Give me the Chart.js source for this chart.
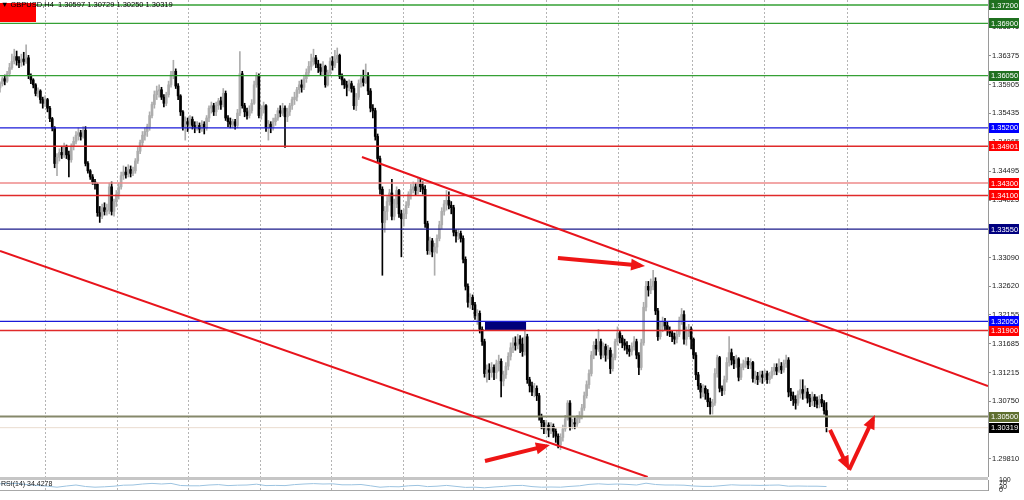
<!DOCTYPE html>
<html>
<head>
<meta charset="utf-8">
<script src="https://cdn.jsdelivr.net/npm/chart.js@4.4.1/dist/chart.umd.min.js"></script>
<style>
  html, body { margin:0; padding:0; background:#fff; overflow:hidden; }
  #stage { position:relative; width:1024px; height:500px; }
  #main { position:absolute; left:0; top:0; }
  #rsi { position:absolute; left:0; top:477px; }
</style>
</head>
<body>
<div id="stage">
  <canvas id="main" width="1024" height="477"></canvas>
  <canvas id="rsi" width="1024" height="23"></canvas>
</div>
<script>
// ================= DATA (GBPUSD H4, one entry per bar) =================
const opens = [
1.3585,1.3592,1.3600,1.3596,1.3608,1.3618,1.3628,1.3636,1.3630,1.3626,
1.3632,1.3628,1.3634,1.3605,1.3598,1.3590,1.3576,1.3580,1.3566,1.3560,
1.3566,1.3552,1.3535,1.3520,1.3462,1.3472,1.3480,1.3476,1.3488,1.3476,
1.3468,1.3490,1.3498,1.3508,1.3512,1.3506,1.3516,1.3462,1.3450,1.3440,
1.3432,1.3428,1.3382,1.3376,1.3390,1.3384,1.3386,1.3424,1.3384,1.3400,
1.3412,1.3424,1.3442,1.3448,1.3444,1.3452,1.3446,1.3450,1.3466,1.3482,
1.3496,1.3508,1.3514,1.3522,1.3540,1.3558,1.3574,1.3580,1.3582,1.3570,
1.3560,1.3574,1.3590,1.3606,1.3612,1.3588,1.3572,1.3546,1.3522,1.3530,
1.3526,1.3534,1.3524,1.3520,1.3524,1.3518,1.3526,1.3520,1.3536,1.3552,
1.3556,1.3546,1.3556,1.3564,1.3558,1.3576,1.3536,1.3530,1.3526,1.3530,
1.3524,1.3544,1.3608,1.3556,1.3546,1.3540,1.3548,1.3560,1.3590,1.3604,
1.3540,1.3550,1.3556,1.3520,1.3526,1.3520,1.3530,1.3536,1.3548,1.3544,
1.3552,1.3538,1.3546,1.3556,1.3566,1.3570,1.3582,1.3590,1.3586,1.3600,
1.3610,1.3620,1.3628,1.3634,1.3624,1.3618,1.3612,1.3620,1.3590,1.3610,
1.3628,1.3622,1.3632,1.3638,1.3604,1.3598,1.3590,1.3586,1.3592,1.3584,
1.3556,1.3570,1.3592,1.3600,1.3594,1.3604,1.3580,1.3552,1.3548,1.3506,
1.3470,1.3420,1.3366,1.3384,1.3400,1.3414,1.3376,1.3396,1.3418,1.3380,
1.3372,1.3380,1.3394,1.3412,1.3420,1.3424,1.3418,1.3428,1.3424,1.3420,
1.3364,1.3320,1.3336,1.3318,1.3326,1.3340,1.3362,1.3384,1.3396,1.3402,
1.3394,1.3390,1.3350,1.3344,1.3348,1.3340,1.3306,1.3262,1.3236,1.3244,
1.3232,1.3214,1.3218,1.3192,1.3172,1.3120,1.3126,1.3122,1.3130,1.3122,
1.3136,1.3140,1.3108,1.3118,1.3132,1.3148,1.3162,1.3170,1.3166,1.3176,
1.3168,1.3156,1.3180,1.3110,1.3100,1.3090,1.3096,1.3084,1.3050,1.3040,
1.3030,1.3036,1.3028,1.3034,1.3026,1.3018,1.3004,1.3016,1.3030,1.3046,
1.3072,1.3034,1.3040,1.3038,1.3046,1.3052,1.3064,1.3084,1.3102,1.3120,
1.3150,1.3166,1.3160,1.3172,1.3150,1.3164,1.3150,1.3158,1.3128,1.3146,
1.3172,1.3186,1.3178,1.3170,1.3166,1.3160,1.3156,1.3164,1.3172,1.3150,
1.3130,1.3170,1.3228,1.3262,1.3256,1.3262,1.3270,1.3222,1.3180,1.3196,
1.3204,1.3198,1.3190,1.3186,1.3180,1.3176,1.3184,1.3206,1.3216,1.3176,
1.3186,1.3192,1.3176,1.3150,1.3118,1.3100,1.3090,1.3096,1.3088,1.3074,
1.3066,1.3072,1.3120,1.3146,1.3096,1.3092,1.3110,1.3138,1.3154,1.3142,
1.3136,1.3144,1.3114,1.3130,1.3136,1.3140,1.3134,1.3138,1.3112,1.3116,
1.3110,1.3118,1.3114,1.3120,1.3110,1.3116,1.3124,1.3130,1.3124,1.3132,
1.3126,1.3136,1.3142,1.3090,1.3084,1.3078,1.3072,1.3086,1.3094,1.3088,
1.3090,1.3080,1.3074,1.3082,1.3076,1.3070,1.3078,1.3072,1.30597
];
const highs = [
1.3595,1.3603,1.3606,1.3612,1.3625,1.3640,1.3648,1.3645,1.3636,1.3640,
1.3643,1.3655,1.3638,1.3608,1.3600,1.3592,1.3585,1.3582,1.3570,1.3572,
1.3568,1.3555,1.3537,1.3522,1.3478,1.3486,1.3490,1.3495,1.3492,1.3482,
1.3494,1.3505,1.3514,1.3520,1.3516,1.3522,1.3522,1.3465,1.3452,1.3444,
1.3436,1.3430,1.3392,1.3396,1.3398,1.3396,1.3430,1.3432,1.3404,1.3418,
1.3430,1.3448,1.3458,1.3456,1.3460,1.3458,1.3456,1.3470,1.3488,1.3500,
1.3514,1.3520,1.3526,1.3546,1.3562,1.3580,1.3588,1.3590,1.3586,1.3574,
1.3578,1.3596,1.3612,1.3630,1.3616,1.3592,1.3574,1.3548,1.3538,1.3536,
1.3540,1.3538,1.3530,1.3530,1.3528,1.3532,1.3530,1.3540,1.3556,1.3562,
1.3560,1.3562,1.3568,1.3570,1.3584,1.3580,1.3540,1.3536,1.3534,1.3534,
1.3550,1.3644,1.3612,1.3560,1.3552,1.3556,1.3566,1.3596,1.3610,1.3608,
1.3556,1.3562,1.3558,1.3532,1.3530,1.3536,1.3542,1.3552,1.3556,1.3560,
1.3556,1.3552,1.3560,1.3570,1.3578,1.3586,1.3596,1.3598,1.3606,1.3616,
1.3628,1.3640,1.3648,1.3638,1.3630,1.3624,1.3628,1.3622,1.3614,1.3634,
1.3636,1.3646,1.3650,1.3640,1.3608,1.3600,1.3596,1.3598,1.3596,1.3588,
1.3576,1.3598,1.3606,1.3614,1.3624,1.3610,1.3584,1.3558,1.3552,1.3510,
1.3474,1.3424,1.3392,1.3408,1.3420,1.3436,1.3404,1.3424,1.3420,1.3386,
1.3388,1.3400,1.3416,1.3428,1.3432,1.3430,1.3438,1.3436,1.3432,1.3426,
1.3368,1.3342,1.3340,1.3332,1.3346,1.3368,1.3390,1.3402,1.3418,1.3416,
1.3400,1.3394,1.3354,1.3354,1.3352,1.3344,1.3310,1.3266,1.3250,1.3248,
1.3236,1.3224,1.3222,1.3196,1.3176,1.3134,1.3136,1.3138,1.3134,1.3142,
1.3150,1.3144,1.3124,1.3138,1.3154,1.3170,1.3178,1.3180,1.3184,1.3182,
1.3178,1.3190,1.3184,1.3114,1.3106,1.3104,1.3100,1.3088,1.3054,1.3044,
1.3044,1.3040,1.3040,1.3038,1.3030,1.3022,1.3022,1.3036,1.3052,1.3076,
1.3076,1.3046,1.3048,1.3052,1.3058,1.3070,1.3090,1.3108,1.3126,1.3156,
1.3172,1.3176,1.3192,1.3176,1.3170,1.3168,1.3166,1.3162,1.3152,1.3176,
1.3196,1.3190,1.3182,1.3176,1.3172,1.3166,1.3170,1.3180,1.3176,1.3154,
1.3176,1.3236,1.3270,1.3270,1.3274,1.3288,1.3276,1.3226,1.3204,1.3212,
1.3210,1.3204,1.3196,1.3190,1.3186,1.3190,1.3212,1.3226,1.3222,1.3196,
1.3200,1.3196,1.3178,1.3154,1.3122,1.3104,1.3102,1.3100,1.3094,1.3080,
1.3078,1.3128,1.3150,1.3148,1.3100,1.3116,1.3146,1.3180,1.3160,1.3148,
1.3150,1.3146,1.3136,1.3142,1.3146,1.3146,1.3144,1.3140,1.3124,1.3122,
1.3124,1.3124,1.3126,1.3124,1.3122,1.3130,1.3136,1.3136,1.3144,1.3138,
1.3142,1.3150,1.3146,1.3096,1.3090,1.3084,1.3092,1.3110,1.3110,1.3100,
1.3096,1.3086,1.3090,1.3086,1.3082,1.3084,1.3086,1.3076,1.30729
];
const lows = [
1.3578,1.3588,1.3590,1.3594,1.3604,1.3615,1.3624,1.3622,1.3618,1.3620,
1.3622,1.3625,1.3600,1.3592,1.3585,1.3572,1.3570,1.3560,1.3552,1.3555,
1.3546,1.3530,1.3515,1.3455,1.3442,1.3466,1.3470,1.3472,1.3470,1.3440,
1.3464,1.3484,1.3494,1.3500,1.3500,1.3503,1.3458,1.3446,1.3436,1.3428,
1.3420,1.3376,1.3366,1.3372,1.3378,1.3378,1.3380,1.3378,1.3376,1.3392,
1.3404,1.3420,1.3436,1.3438,1.3440,1.3440,1.3442,1.3446,1.3462,1.3478,
1.3490,1.3500,1.3506,1.3516,1.3536,1.3552,1.3566,1.3570,1.3566,1.3554,
1.3556,1.3570,1.3586,1.3600,1.3584,1.3566,1.3540,1.3516,1.3500,1.3514,
1.3520,1.3518,1.3512,1.3516,1.3512,1.3514,1.3510,1.3516,1.3530,1.3544,
1.3540,1.3540,1.3550,1.3550,1.3554,1.3532,1.3522,1.3520,1.3520,1.3518,
1.3520,1.3540,1.3552,1.3538,1.3534,1.3536,1.3544,1.3558,1.3586,1.3536,
1.3534,1.3544,1.3514,1.3500,1.3512,1.3516,1.3524,1.3532,1.3538,1.3540,
1.3488,1.3530,1.3540,1.3550,1.3558,1.3564,1.3576,1.3578,1.3582,1.3594,
1.3604,1.3614,1.3622,1.3618,1.3610,1.3606,1.3606,1.3586,1.3588,1.3606,
1.3614,1.3618,1.3626,1.3600,1.3590,1.3584,1.3572,1.3580,1.3578,1.3550,
1.3548,1.3566,1.3586,1.3588,1.3592,1.3574,1.3546,1.3536,1.3500,1.3464,
1.3412,1.3280,1.3350,1.3370,1.3394,1.3370,1.3370,1.3390,1.3374,1.3310,
1.3360,1.3372,1.3390,1.3404,1.3414,1.3410,1.3412,1.3416,1.3412,1.3358,
1.3314,1.3314,1.3310,1.3280,1.3316,1.3336,1.3356,1.3378,1.3386,1.3388,
1.3380,1.3344,1.3334,1.3338,1.3334,1.3300,1.3256,1.3228,1.3226,1.3224,
1.3208,1.3200,1.3186,1.3166,1.3114,1.3106,1.3110,1.3114,1.3110,1.3112,
1.3124,1.3082,1.3100,1.3112,1.3126,1.3142,1.3154,1.3158,1.3160,1.3154,
1.3148,1.3150,1.3104,1.3090,1.3084,1.3082,1.3076,1.3044,1.3030,1.3022,
1.3022,1.3017,1.3022,1.3016,1.3008,1.2999,1.2996,1.3010,1.3026,1.3044,
1.3028,1.3030,1.3030,1.3034,1.3040,1.3046,1.3060,1.3080,1.3096,1.3116,
1.3144,1.3150,1.3156,1.3144,1.3146,1.3140,1.3144,1.3120,1.3124,1.3142,
1.3166,1.3170,1.3162,1.3158,1.3152,1.3148,1.3150,1.3158,1.3144,1.3118,
1.3126,1.3166,1.3222,1.3246,1.3250,1.3256,1.3216,1.3174,1.3176,1.3188,
1.3190,1.3182,1.3180,1.3172,1.3168,1.3170,1.3180,1.3200,1.3168,1.3166,
1.3180,1.3160,1.3144,1.3110,1.3094,1.3080,1.3082,1.3078,1.3066,1.3054,
1.3054,1.3068,1.3114,1.3090,1.3084,1.3086,1.3106,1.3132,1.3134,1.3128,
1.3130,1.3108,1.3110,1.3126,1.3130,1.3128,1.3128,1.3106,1.3104,1.3102,
1.3106,1.3104,1.3108,1.3104,1.3104,1.3112,1.3118,1.3118,1.3122,1.3120,
1.3122,1.3130,1.3082,1.3076,1.3068,1.3062,1.3068,1.3080,1.3078,1.3080,
1.3072,1.3066,1.3068,1.3066,1.3064,1.3064,1.3066,1.3054,1.30250
];
const closes = [
1.3592,1.3600,1.3596,1.3608,1.3618,1.3628,1.3636,1.3630,1.3626,1.3632,
1.3628,1.3634,1.3605,1.3598,1.3590,1.3576,1.3580,1.3566,1.3560,1.3566,
1.3552,1.3535,1.3520,1.3462,1.3472,1.3480,1.3476,1.3488,1.3476,1.3468,
1.3490,1.3498,1.3508,1.3512,1.3506,1.3516,1.3462,1.3450,1.3440,1.3432,
1.3428,1.3382,1.3376,1.3390,1.3384,1.3386,1.3424,1.3384,1.3400,1.3412,
1.3424,1.3442,1.3448,1.3444,1.3452,1.3446,1.3450,1.3466,1.3482,1.3496,
1.3508,1.3514,1.3522,1.3540,1.3558,1.3574,1.3580,1.3582,1.3570,1.3560,
1.3574,1.3590,1.3606,1.3612,1.3588,1.3572,1.3546,1.3522,1.3530,1.3526,
1.3534,1.3524,1.3520,1.3524,1.3518,1.3526,1.3520,1.3536,1.3552,1.3556,
1.3546,1.3556,1.3564,1.3558,1.3576,1.3536,1.3530,1.3526,1.3530,1.3524,
1.3544,1.3608,1.3556,1.3546,1.3540,1.3548,1.3560,1.3590,1.3604,1.3540,
1.3550,1.3556,1.3520,1.3526,1.3520,1.3530,1.3536,1.3548,1.3544,1.3552,
1.3538,1.3546,1.3556,1.3566,1.3570,1.3582,1.3590,1.3586,1.3600,1.3610,
1.3620,1.3628,1.3634,1.3624,1.3618,1.3612,1.3620,1.3590,1.3610,1.3628,
1.3622,1.3632,1.3638,1.3604,1.3598,1.3590,1.3586,1.3592,1.3584,1.3556,
1.3570,1.3592,1.3600,1.3594,1.3604,1.3580,1.3552,1.3548,1.3506,1.3470,
1.3420,1.3366,1.3384,1.3400,1.3414,1.3376,1.3396,1.3418,1.3380,1.3372,
1.3380,1.3394,1.3412,1.3420,1.3424,1.3418,1.3428,1.3424,1.3420,1.3364,
1.3320,1.3336,1.3318,1.3326,1.3340,1.3362,1.3384,1.3396,1.3402,1.3394,
1.3390,1.3350,1.3344,1.3348,1.3340,1.3306,1.3262,1.3236,1.3244,1.3232,
1.3214,1.3218,1.3192,1.3172,1.3120,1.3126,1.3122,1.3130,1.3122,1.3136,
1.3140,1.3108,1.3118,1.3132,1.3148,1.3162,1.3170,1.3166,1.3176,1.3168,
1.3156,1.3180,1.3110,1.3100,1.3090,1.3096,1.3084,1.3050,1.3040,1.3030,
1.3036,1.3028,1.3034,1.3026,1.3018,1.3004,1.3016,1.3030,1.3046,1.3072,
1.3034,1.3040,1.3038,1.3046,1.3052,1.3064,1.3084,1.3102,1.3120,1.3150,
1.3166,1.3160,1.3172,1.3150,1.3164,1.3150,1.3158,1.3128,1.3146,1.3172,
1.3186,1.3178,1.3170,1.3166,1.3160,1.3156,1.3164,1.3172,1.3150,1.3130,
1.3170,1.3228,1.3262,1.3256,1.3262,1.3270,1.3222,1.3180,1.3196,1.3204,
1.3198,1.3190,1.3186,1.3180,1.3176,1.3184,1.3206,1.3216,1.3176,1.3186,
1.3192,1.3176,1.3150,1.3118,1.3100,1.3090,1.3096,1.3088,1.3074,1.3066,
1.3072,1.3120,1.3146,1.3096,1.3092,1.3110,1.3138,1.3154,1.3142,1.3136,
1.3144,1.3114,1.3130,1.3136,1.3140,1.3134,1.3138,1.3112,1.3116,1.3110,
1.3118,1.3114,1.3120,1.3110,1.3116,1.3124,1.3130,1.3124,1.3132,1.3126,
1.3136,1.3142,1.3090,1.3084,1.3078,1.3072,1.3086,1.3094,1.3088,1.3090,
1.3080,1.3074,1.3082,1.3076,1.3070,1.3078,1.3072,1.30597,1.30319
];

// price-axis tick labels (regular)
const priceTicks = [1.36845,1.36375,1.35905,1.35435,1.34965,1.34495,1.34025,1.33560,1.33090,1.32620,1.32155,1.31685,1.31215,1.30750,1.30280,1.29810];
// horizontal levels and their kind
const levelPrices = [1.37200,1.36900,1.36050,1.35200,1.34901,1.34300,1.34100,1.33550,1.32050,1.31900,1.30500,1.30319];
const levelKinds  = ['green','green','green','blue','red','pink','red','navy','blue','red','olive','bid'];

// time axis: labels and the bar index each one belongs to
const timeLabels = ['18 Jan 2022','24 Jan 16:00','28 Jan 16:00','3 Feb 16:00','9 Feb 16:00','15 Feb 16:00','21 Feb 16:00','25 Feb 16:00','3 Mar 16:00','9 Mar 16:00','15 Mar 12:00','21 Mar 08:00','25 Mar 08:00','31 Mar 08:00','6 Apr 08:00'];
const timeLabelBars = [-2,23,47,71,95,119,143,167,191,215,239,263,287,311,335];
// vertical grid positions (bar index)
const gridBars = [19,49.3,79.2,109.5,139.4,169.7,199.2,229.9,260.6,291.4,321.7,357];

// drawn objects (bar index, price)
const upperChannel = [[152.4,1.34726],[416,1.30998]];
const lowerChannel = [[0,1.33196],[272.7,1.29516]];
const arrowPaths = [
  [[234.9,1.33082],[269.5,1.32960]],
  [[204.2,1.29777],[229.5,1.30018]],
  [[349.5,1.30282],[356.6,1.29704]],
  [[357.5,1.29631],[367.5,1.30453]]
];
const zoneBars = [204.2,221.5];
const zonePrices = [1.32050,1.31910];

// RSI(14)
const rsiBars = [0,4,8,12,16,20,24,28,32,36,40,44,48,52,56,60,64,68,72,76,80,84,88,92,96,100,104,108,112,116,120,124,128,132,136,140,144,148,152,156,160,164,168,172,176,180,184,188,192,196,200,204,208,212,216,220,224,228,232,236,240,244,248,252,256,260,264,268,272,276,280,284,288,292,296,300,304,308,312,316,320,324,328,332,336,340,344,348];
const rsiValues = [62,66,64,52,45,38,28,40,50,35,28,32,38,48,50,60,66,60,66,45,42,42,50,54,44,48,50,58,44,46,44,54,60,64,60,62,52,52,55,42,28,34,32,42,46,34,38,46,36,26,28,22,30,36,44,46,34,28,30,28,36,42,56,62,56,60,56,50,68,55,50,50,48,40,36,36,44,52,48,48,46,48,50,38,40,38,38,34.43];
const rsiLevels = [0,30,70,100];
const headerText = '\u25BC GBPUSD,H4  1.30597 1.30729 1.30250 1.30319';
const rsiText = 'RSI(14) 34.4278';

// ================= STYLE / LAYOUT =================
const FONT = '"Liberation Sans", Arial, "DejaVu Sans", sans-serif';
const X_MIN = 0, X_MAX = 416;
const Y_MIN = 1.29516, Y_MAX = 1.37281;
const BULL = '#adadad', BEAR = '#000000';
const LEVEL_STYLE = {
  green: {line:'#35a035', width:1.3, box:'#1f701f'},
  blue:  {line:'#1a1ad8', width:1.2, box:'#0000ff'},
  red:   {line:'#e02a2a', width:1.5, box:'#ff0000'},
  pink:  {line:'#ee8a8a', width:1.5, box:'#ff0000'},
  navy:  {line:'#1a1a8a', width:1.2, box:'#000080'},
  olive: {line:'#85886a', width:2,   box:'#5f6f2f'},
  bid:   {line:'#eadccf', width:1,   box:'#000000'}
};

const candleColors = closes.map((c, i) => c >= opens[i] ? BULL : BEAR);
const idx = closes.map((_, i) => i);

const datasets = [];
datasets.push({type:'bar', data: idx.map(i => ({x:i, y:[lows[i], highs[i]]})),
  backgroundColor: candleColors, barThickness:1, grouped:false, borderWidth:0, order:20});
datasets.push({type:'bar', data: idx.map(i => ({x:i, y:[opens[i], closes[i]]})),
  backgroundColor: candleColors, barThickness:2, minBarLength:1, grouped:false, borderWidth:0, order:19});
levelPrices.forEach((p, k) => {
  const st = LEVEL_STYLE[levelKinds[k]];
  datasets.push({type:'line', data:[{x:X_MIN, y:p}, {x:X_MAX, y:p}], borderColor:st.line,
    borderWidth:st.width, pointRadius:0, tension:0, order:10});
});
[upperChannel, lowerChannel].forEach(seg => datasets.push({type:'line',
  data: seg.map(([x, y]) => ({x, y})), borderColor:'#e8141c', borderWidth:2, pointRadius:0, order:5}));
arrowPaths.forEach(seg => datasets.push({type:'line',
  data: seg.map(([x, y]) => ({x, y})), borderColor:'#ee1515', borderWidth:4, pointRadius:0,
  borderCapStyle:'butt', order:1}));

const mainDecor = {
  id: 'mainDecor',
  beforeDatasetsDraw(chart) {
    const {ctx, scales:{x, y}} = chart;
    ctx.save();
    ctx.fillStyle = '#00007a';
    const x0 = x.getPixelForValue(zoneBars[0]), x1 = x.getPixelForValue(zoneBars[1]);
    const y0 = y.getPixelForValue(zonePrices[0]), y1 = y.getPixelForValue(zonePrices[1]);
    ctx.fillRect(x0, y0, x1 - x0, y1 - y0);
    ctx.restore();
  },
  afterDatasetsDraw(chart) {
    const {ctx, scales:{x, y}} = chart;
    ctx.save();
    ctx.fillStyle = '#ee1515';
    arrowPaths.forEach(path => {
      const a = path[path.length - 2], b = path[path.length - 1];
      const ax = x.getPixelForValue(a[0]), ay = y.getPixelForValue(a[1]);
      const bx = x.getPixelForValue(b[0]), by = y.getPixelForValue(b[1]);
      const len = Math.hypot(bx - ax, by - ay), ux = (bx - ax) / len, uy = (by - ay) / len;
      const tx = bx + ux * 5, ty = by + uy * 5, cx = bx - ux * 9, cy = by - uy * 9;
      ctx.beginPath();
      ctx.moveTo(tx, ty);
      ctx.lineTo(cx - uy * 6, cy + ux * 6);
      ctx.lineTo(cx + uy * 6, cy - ux * 6);
      ctx.closePath();
      ctx.fill();
    });
    ctx.restore();
  },
  afterDraw(chart) {
    const {ctx, scales:{y}} = chart;
    ctx.save();
    ctx.font = '7.5px ' + FONT;
    ctx.textBaseline = 'middle';
    levelPrices.forEach((p, k) => {
      const st = LEVEL_STYLE[levelKinds[k]];
      const py = y.getPixelForValue(p);
      ctx.fillStyle = st.box;
      ctx.fillRect(y.left + 1, Math.round(py) - 5, 30, 10);
      ctx.fillStyle = '#ffffff';
      ctx.fillText(p.toFixed(5), y.left + 3, py + 0.5);
    });
    ctx.fillStyle = '#ff0000';
    ctx.fillRect(0, 3, 36, 19);
    ctx.fillStyle = '#000000';
    ctx.fillText(headerText, 1, 5);
    ctx.restore();
  }
};

new Chart(document.getElementById('main'), {
  type: 'bar',
  data: {datasets},
  options: {
    responsive:false, animation:false, events:[],
    layout:{padding:0},
    plugins:{legend:{display:false}, tooltip:{enabled:false}},
    scales:{
      x:{type:'linear', min:X_MIN, max:X_MAX, offset:false,
         grid:{display:true, drawTicks:false, color:'#b4b4b4', lineWidth:1, offset:false},
         border:{display:false, dash:[2,2]},
         ticks:{display:false},
         afterBuildTicks: s => { s.ticks = gridBars.map(v => ({value:v})); },
         afterFit: s => { s.height = 0; s.paddingLeft = 0; s.paddingRight = 0; }},
      y:{type:'linear', position:'right', min:Y_MIN, max:Y_MAX, beginAtZero:false,
         grid:{display:true, drawOnChartArea:false, drawTicks:true, tickLength:3, color:'#909090'},
         border:{display:true, color:'#9a9a9a', width:1},
         ticks:{font:{family:FONT, size:7.5}, color:'#1a1a1a', padding:1, autoSkip:false,
                callback: v => Number(v).toFixed(5)},
         afterBuildTicks: s => { s.ticks = priceTicks.slice().sort((a, b) => a - b).map(v => ({value:v})); },
         afterFit: s => { s.width = 36; s.paddingTop = 0; s.paddingBottom = 0; }}
    }
  },
  plugins:[mainDecor]
});

const rsiDecor = {
  id:'rsiDecor',
  afterDraw(chart) {
    const {ctx, chartArea} = chart;
    ctx.save();
    ctx.fillStyle = '#c6c6c6';
    ctx.fillRect(0, 0, chartArea.right, 3);
    ctx.fillStyle = '#a8a8a8';
    ctx.fillRect(0, chartArea.bottom, chartArea.right, 1);
    ctx.font = '7px ' + FONT;
    ctx.fillStyle = '#1a1a1a';
    ctx.textBaseline = 'middle';
    ctx.fillText(rsiText, 1, chartArea.top + 4);
    ctx.restore();
  }
};

new Chart(document.getElementById('rsi'), {
  type:'line',
  data:{datasets:[{data: rsiBars.map((b, i) => ({x:b, y:rsiValues[i]})), borderColor:'#9cc3e0',
    borderWidth:1, pointRadius:0, tension:0}]},
  options:{
    responsive:false, animation:false, events:[],
    layout:{padding:{top:3, left:0, right:0, bottom:0}},
    plugins:{legend:{display:false}, tooltip:{enabled:false}},
    scales:{
      x:{type:'linear', min:X_MIN, max:X_MAX, offset:false, position:'bottom',
         grid:{display:false}, border:{display:false},
         ticks:{autoSkip:false, maxRotation:0, align:'start', padding:1,
                font:{family:FONT, size:7}, color:'#1a1a1a', callback:(v, i) => timeLabels[i]},
         afterBuildTicks: s => { s.ticks = timeLabelBars.map(v => ({value:v})); },
         afterFit: s => { s.height = 10; s.paddingLeft = 0; s.paddingRight = 0; }},
      xg:{type:'linear', min:X_MIN, max:X_MAX, offset:false, position:'bottom',
         grid:{display:true, drawTicks:false, color:'#b4b4b4'}, border:{display:false, dash:[2,2]},
         ticks:{display:false},
         afterBuildTicks: s => { s.ticks = gridBars.map(v => ({value:v})); },
         afterFit: s => { s.height = 0; s.paddingLeft = 0; s.paddingRight = 0; }},
      y:{type:'linear', position:'right', min:0, max:100,
         grid:{display:false}, border:{display:true, color:'#9a9a9a'},
         ticks:{autoSkip:false, padding:3, font:{family:FONT, size:7}, color:'#1a1a1a', callback: v => String(v)},
         afterBuildTicks: s => { s.ticks = rsiLevels.map(v => ({value:v})); },
         afterFit: s => { s.width = 36; s.paddingTop = 0; s.paddingBottom = 0; }}
    }
  },
  plugins:[rsiDecor]
});
</script>
</body>
</html>
